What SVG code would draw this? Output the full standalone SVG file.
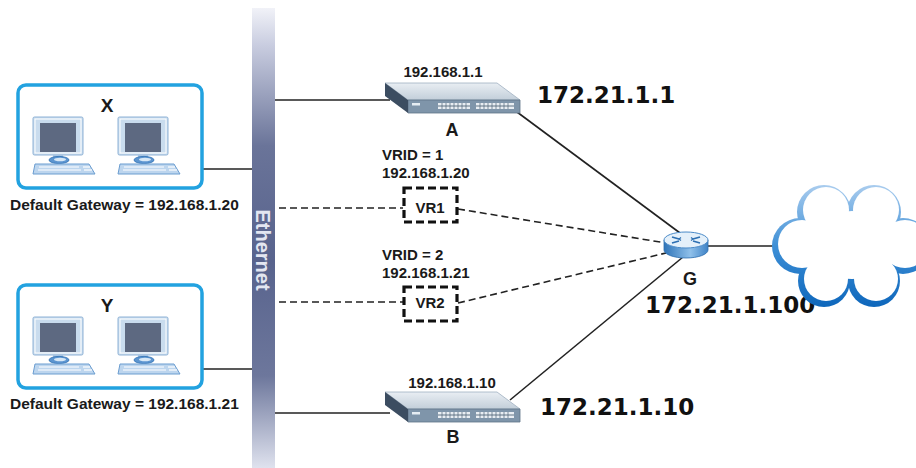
<svg xmlns="http://www.w3.org/2000/svg" width="916" height="468" viewBox="0 0 916 468">
  <style>
    .lbl { font-family: "Liberation Sans", Arial, sans-serif; font-weight: bold; fill: #1a1a1a; }
    .big { font-family: "DejaVu Sans", Verdana, sans-serif; font-weight: bold; font-size: 23px; fill: #111; }
    .wire { stroke: #222; stroke-width: 1.6; fill: none; }
    .dash { stroke: #222; stroke-width: 1.6; fill: none; stroke-dasharray: 7 4; }
    .vrbox { stroke: #111; stroke-width: 3.2; fill: #fff; stroke-dasharray: 8 4; }
    .group { fill: #fff; stroke: #22a2e0; stroke-width: 3.5; }
  </style>
  <defs>
    <linearGradient id="bus" x1="0" y1="0" x2="0" y2="1">
      <stop offset="0" stop-color="#f1f2f8"/>
      <stop offset="0.08" stop-color="#c9cde0"/>
      <stop offset="0.3" stop-color="#6a7499"/>
      <stop offset="0.55" stop-color="#58638d"/>
      <stop offset="0.8" stop-color="#6d779c"/>
      <stop offset="1" stop-color="#dfe2ee"/>
    </linearGradient>
    <linearGradient id="swTop" x1="0" y1="0" x2="0" y2="1">
      <stop offset="0" stop-color="#e9eef3"/>
      <stop offset="1" stop-color="#c2ced9"/>
    </linearGradient>
    <linearGradient id="cloudEdge" gradientUnits="userSpaceOnUse" x1="0" y1="185" x2="0" y2="308">
      <stop offset="0" stop-color="#a9ccee"/>
      <stop offset="0.5" stop-color="#3d8fd6"/>
      <stop offset="1" stop-color="#0d66bb"/>
    </linearGradient>
    <linearGradient id="rtSide" x1="0" y1="0" x2="1" y2="0">
      <stop offset="0" stop-color="#2f74b8"/>
      <stop offset="0.6" stop-color="#8fc0ea"/>
      <stop offset="1" stop-color="#3f83c6"/>
    </linearGradient>
    <symbol id="pc" overflow="visible">
      <rect x="0" y="0" width="50" height="38" rx="1.5" fill="#c9dcee" stroke="#8fb2d6" stroke-width="1"/>
      <rect x="2" y="2" width="46" height="34" fill="none" stroke="#fff" stroke-width="1"/>
      <rect x="7" y="6" width="36" height="29" fill="#5d6981"/>
      <rect x="20" y="38" width="10" height="3" fill="#a7c4e2"/>
      <ellipse cx="26" cy="43" rx="10" ry="3.6" fill="#5c95d0" stroke="#2c6fb4" stroke-width="0.8"/>
      <ellipse cx="27" cy="42.5" rx="6" ry="1.8" fill="#d8e8f6"/>
      <polygon points="2,47 56,47 62,57 0,57" fill="#bcd5ee" stroke="#6b9dd0" stroke-width="1"/>
      <line x1="6" y1="50" x2="46" y2="50" stroke="#fff" stroke-width="1.2"/>
      <line x1="5" y1="53" x2="48" y2="53" stroke="#fff" stroke-width="1.2"/>
      <line x1="50" y1="50" x2="57" y2="50" stroke="#fff" stroke-width="1.2"/>
      <line x1="51" y1="53" x2="59" y2="53" stroke="#fff" stroke-width="1.2"/>
    </symbol>
    <symbol id="switch" overflow="visible">
      <!-- top, front and left side faces of a rack switch; origin at back-left top corner -->
      <polygon points="0,0 112,0 135,17 23,17" fill="url(#swTop)" stroke="#9fb0c0" stroke-width="0.8"/>
      <polygon points="23,17 135,17 135,30 23,30" fill="#7f95aa" stroke="#5f7388" stroke-width="0.8"/>
      <polygon points="0,0 23,17 23,30 0,13" fill="#3c4d61"/>
      <rect x="27" y="20" width="8" height="2.5" fill="#e6edf3"/>
      <rect x="53" y="20" width="32" height="6" fill="#e9eef3"/>
      <rect x="91" y="20" width="38" height="6" fill="#e9eef3"/>
      <path d="M53,23 H85 M91,23 H129" stroke="#52667a" stroke-width="0.9"/>
      <path d="M57,20 V26 M61,20 V26 M65,20 V26 M69,20 V26 M73,20 V26 M77,20 V26 M81,20 V26 M95,20 V26 M99,20 V26 M103,20 V26 M107,20 V26 M111,20 V26 M115,20 V26 M119,20 V26 M123,20 V26" stroke="#52667a" stroke-width="0.7"/>
    </symbol>
  </defs>

  <rect width="916" height="468" fill="#fff"/>

  <!-- connectors -->
  <g id="connectors">
    <line class="wire" x1="202" y1="169" x2="253" y2="169"/>
    <line class="wire" x1="202" y1="369" x2="253" y2="369"/>
    <line class="wire" x1="275" y1="100" x2="390" y2="100"/>
    <line class="wire" x1="275" y1="413" x2="390" y2="413"/>
    <line class="dash" x1="268" y1="208" x2="403" y2="208"/>
    <line class="dash" x1="268" y1="302" x2="403" y2="302"/>
    <line class="wire" x1="517" y1="112" x2="680" y2="233"/>
    <line class="wire" x1="510" y1="400" x2="683" y2="257"/>
    <line class="dash" x1="458" y1="209" x2="666" y2="243"/>
    <line class="dash" x1="458" y1="303" x2="666" y2="253"/>
    <line class="wire" x1="707" y1="246" x2="774" y2="246"/>
  </g>

  <!-- Ethernet bus -->
  <g id="ethernet">
    <rect x="252" y="8" width="23" height="460" fill="url(#bus)"/>
    <text class="lbl" x="263" y="250" transform="rotate(90 263 250)" text-anchor="middle" dominant-baseline="central" font-size="20" style="fill:#e3e6f1">Ethernet</text>
  </g>

  <!-- host group X -->
  <g id="group-x">
    <rect class="group" x="18" y="85" width="184" height="103" rx="8"/>
    <text class="lbl" x="107" y="112" text-anchor="middle" font-size="19">X</text>
    <use href="#pc" x="33" y="117"/>
    <use href="#pc" x="118" y="117"/>
    <text class="lbl" x="10" y="210" font-size="15.5">Default Gateway = 192.168.1.20</text>
  </g>

  <!-- host group Y -->
  <g id="group-y">
    <rect class="group" x="18" y="285" width="184" height="103" rx="8"/>
    <text class="lbl" x="107" y="312" text-anchor="middle" font-size="19">Y</text>
    <use href="#pc" x="33" y="317"/>
    <use href="#pc" x="118" y="317"/>
    <text class="lbl" x="10" y="409" font-size="15.5">Default Gateway = 192.168.1.21</text>
  </g>

  <!-- switch A -->
  <g id="switch-a">
    <use href="#switch" x="385" y="83"/>
    <text class="lbl" x="443" y="77" text-anchor="middle" font-size="15">192.168.1.1</text>
    <text class="lbl" x="452" y="136" text-anchor="middle" font-size="18">A</text>
    <text class="big" x="537" y="103">172.21.1.1</text>
  </g>

  <!-- switch B -->
  <g id="switch-b">
    <use href="#switch" x="385" y="392"/>
    <text class="lbl" x="452" y="388" text-anchor="middle" font-size="15">192.168.1.10</text>
    <text class="lbl" x="453" y="443" text-anchor="middle" font-size="18">B</text>
    <text class="big" x="540" y="415">172.21.1.10</text>
  </g>

  <!-- virtual router 1 -->
  <g id="vr1">
    <text class="lbl" x="382" y="160" font-size="15">VRID = 1</text>
    <text class="lbl" x="382" y="178" font-size="15">192.168.1.20</text>
    <rect class="vrbox" x="404" y="188" width="53" height="34"/>
    <text class="lbl" x="430" y="213" text-anchor="middle" font-size="15">VR1</text>
  </g>

  <!-- virtual router 2 -->
  <g id="vr2">
    <text class="lbl" x="382" y="260" font-size="15">VRID = 2</text>
    <text class="lbl" x="382" y="278" font-size="15">192.168.1.21</text>
    <rect class="vrbox" x="404" y="287" width="53" height="34"/>
    <text class="lbl" x="430" y="308" text-anchor="middle" font-size="15">VR2</text>
  </g>

  <!-- gateway router G -->
  <g id="router-g">
    <path d="M664,240 V250 A22,8 0 0 0 708,250 V240 Z" fill="url(#rtSide)" stroke="#2e6fae" stroke-width="0.8"/>
    <ellipse cx="686" cy="240" rx="22" ry="8" fill="#e4f0fa" stroke="#4a8ac8" stroke-width="1"/>
    <path d="M672,237 L679,239 M672,243 L679,241 M700,237 L693,239 M700,243 L693,241" stroke="#2d6fb2" stroke-width="1.8" fill="none"/>
    <path d="M681,237.5 L679,239 L681,240.5 M691,237.5 L693,239 L691,240.5" stroke="#2d6fb2" stroke-width="1.2" fill="none"/>
    <text class="lbl" x="690" y="285" text-anchor="middle" font-size="18">G</text>
    <text class="big" x="645" y="313">172.21.1.100</text>
  </g>

  <!-- internet cloud -->
  <g id="cloud">
    <g fill="url(#cloudEdge)">
      <circle cx="800" cy="246" r="28"/>
      <circle cx="824" cy="212" r="27"/>
      <circle cx="874" cy="212" r="27"/>
      <circle cx="903" cy="246" r="28"/>
      <circle cx="874" cy="281" r="26"/>
      <circle cx="824" cy="281" r="26"/>
    </g>
    <g fill="#fff">
      <circle cx="802" cy="244" r="24"/>
      <circle cx="826" cy="210" r="23"/>
      <circle cx="876" cy="210" r="23"/>
      <circle cx="905" cy="244" r="24"/>
      <circle cx="876" cy="279" r="22"/>
      <circle cx="826" cy="279" r="22"/>
      <ellipse cx="852" cy="245" rx="48" ry="34"/>
    </g>
  </g>
</svg>
